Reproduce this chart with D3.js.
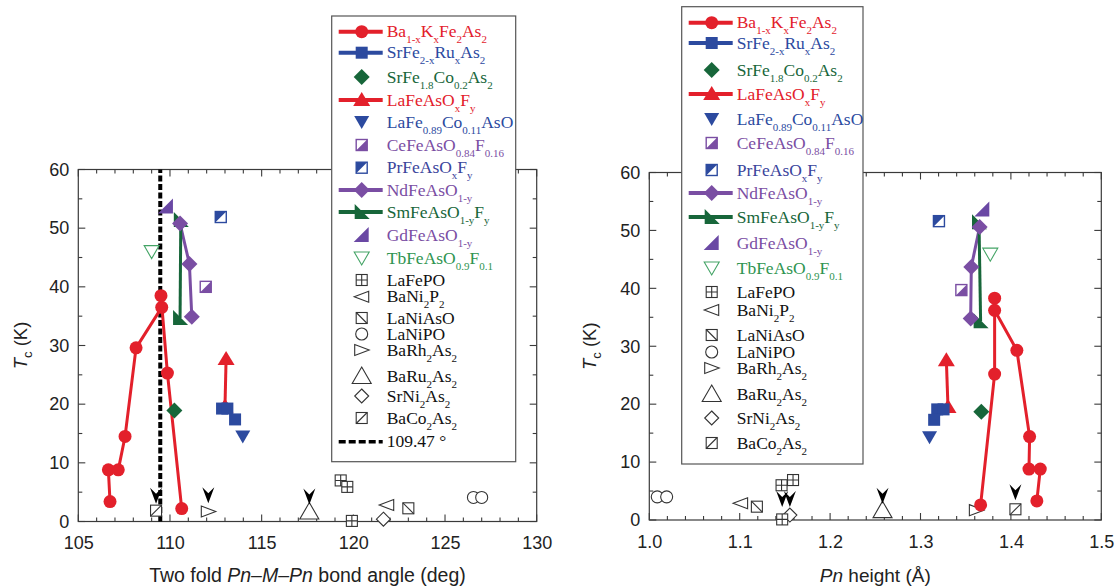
<!DOCTYPE html>
<html><head><meta charset="utf-8">
<script src="https://cdn.jsdelivr.net/npm/d3@7"></script>
<style>body{margin:0;background:#fff}svg{display:block}</style>
</head><body>
<svg id="chart" width="1120" height="588"></svg>
<script>
// ---------- DATA ----------
const tcTicks = [0, 10, 20, 30, 40, 50, 60];
const angleTicks = [105, 110, 115, 120, 125, 130];
const heightTicks = [1.0, 1.1, 1.2, 1.3, 1.4, 1.5];
const tetraAngle = 109.47;
const tetraLabel = "109.47 °";

const seriesLabels = [
  "Ba_{1-x}K_{x}Fe_{2}As_{2}", "SrFe_{2-x}Ru_{x}As_{2}", "SrFe_{1.8}Co_{0.2}As_{2}",
  "LaFeAsO_{x}F_{y}", "LaFe_{0.89}Co_{0.11}AsO", "CeFeAsO_{0.84}F_{0.16}",
  "PrFeAsO_{x}F_{y}", "NdFeAsO_{1-y}", "SmFeAsO_{1-y}F_{y}", "GdFeAsO_{1-y}",
  "TbFeAsO_{0.9}F_{0.1}", "LaFePO", "BaNi_{2}P_{2}", "LaNiAsO", "LaNiPO",
  "BaRh_{2}As_{2}", "BaRu_{2}As_{2}", "SrNi_{2}As_{2}", "BaCo_{2}As_{2}"
];

// bond angle (deg), Tc (K)
const angleBaK = [[106.73,3.4],[106.64,8.8],[107.18,8.8],[107.55,14.5],[108.15,29.6],[109.55,36.5],[109.51,38.5],[109.86,25.3],[110.64,2.2]];
const angleSrRu = [[112.84,19.25],[113.13,19.25],[113.55,17.4]];
const angleSrCo = [[110.24,18.9]];
const angleLaF = [[113.06,27.7],[113.0,19.6]];
const angleLaCo = [[113.97,14.5]];
const angleCe = [[111.95,40.0]];
const anglePr = [[112.77,51.9]];
const angleNd = [[110.55,50.8],[111.06,43.9],[111.19,34.9]];
const angleSm = [[110.59,51.4],[110.55,34.7]];
const angleGd = [[109.78,53.7]];
const angleTb = [[109.0,46.0]];
const angleLaFePO = [[119.31,7.0],[119.67,5.9],[119.92,0.1]];
const angleBaNi2P2 = [[121.82,2.8]];
const angleLaNiAsO = [[123.0,2.25]];
const angleLaNiPO = [[126.55,4.1],[127.0,4.1]];
const angleBaRh = [[112.09,1.7]];
const angleBaRu = [[117.6,1.7]];
const angleSrNi = [[121.64,0.4]];
const angleBaCo = [[109.24,1.85]];
const angleArrows = [[109.24,4.2],[112.09,4.3],[117.6,4.1]];

// Pn height (Å), Tc (K)
const heightBaK = [[1.3665,2.6],[1.382,25.2],[1.382,38.3],[1.382,36.2],[1.4066,29.3],[1.4207,14.4],[1.420,8.8],[1.4325,8.8],[1.4287,3.3]];
const heightSrRu = [[1.3185,19.1],[1.3255,19.1],[1.3151,17.3]];
const heightSrCo = [[1.3673,18.7]];
const heightLaF = [[1.3286,27.6],[1.3304,19.5]];
const heightLaCo = [[1.310,14.3]];
const heightCe = [[1.3452,39.7]];
const heightPr = [[1.3204,51.6]];
const heightNd = [[1.3654,50.6],[1.3562,43.7],[1.3555,34.8]];
const heightSm = [[1.3647,51.4],[1.3665,34.3]];
const heightGd = [[1.3684,53.6]];
const heightTb = [[1.3772,45.9]];
const heightLaFePO = [[1.1463,6.0],[1.159,6.9],[1.147,0.1]];
const heightBaNi2P2 = [[1.101,2.9]];
const heightLaNiAsO = [[1.119,2.3]];
const heightLaNiPO = [[1.0088,4.0],[1.0192,4.0]];
const heightBaRh = [[1.3618,1.7]];
const heightBaRu = [[1.258,1.7]];
const heightSrNi = [[1.1555,0.86]];
const heightBaCo = [[1.405,1.85]];
const heightArrows = [[1.147,3.45],[1.1555,3.45],[1.258,4.0],[1.405,4.6]];

// ---------- STYLE ----------
const RED = "#e3202b", BLUE = "#2c4a9f", GREEN = "#17663a", PURPLE = "#7a4ea3",
      GDP = "#6a48a4", TBG = "#44a466", BLK = "#333";
const seriesStyle = [
  {sym:"circle", c:RED, line:true, tc:RED},
  {sym:"square", c:BLUE, line:true, tc:BLUE},
  {sym:"diamond", c:GREEN, line:false, tc:GREEN},
  {sym:"triUp", c:RED, line:true, tc:RED},
  {sym:"triDown", c:BLUE, line:false, tc:BLUE},
  {sym:"halfLR", c:PURPLE, line:false, tc:PURPLE},
  {sym:"halfUL", c:BLUE, line:false, tc:"#3a449c"},
  {sym:"diamond", c:PURPLE, line:true, tc:PURPLE},
  {sym:"sm", c:GREEN, line:true, tc:GREEN},
  {sym:"gd", c:GDP, line:false, tc:PURPLE},
  {sym:"triDownOpen", c:TBG, line:false, tc:"#2e9450"},
  {sym:"sqCross", c:BLK, line:false, tc:"#111"},
  {sym:"triLeftOpen", c:BLK, line:false, tc:"#111"},
  {sym:"sqDiag1", c:BLK, line:false, tc:"#111"},
  {sym:"circleOpen", c:BLK, line:false, tc:"#111"},
  {sym:"triRightOpen", c:BLK, line:false, tc:"#111"},
  {sym:"triUpOpen", c:BLK, line:false, tc:"#111"},
  {sym:"diamondOpen", c:BLK, line:false, tc:"#111"},
  {sym:"sqDiag2", c:BLK, line:false, tc:"#111"}
];

const svg = d3.select("#chart");

function drawSymbol(g, type, c, x, y) {
  const s = g.append("g").attr("transform", `translate(${x},${y})`);
  const open = {fill:"#fff", stroke:c, "stroke-width":1.1};
  const setA = (el, o) => { for (const k in o) el.attr(k, o[k]); return el; };
  switch (type) {
    case "circle": s.append("circle").attr("r", 6.5).attr("fill", c); break;
    case "square": s.append("rect").attr("x",-6).attr("y",-6).attr("width",12).attr("height",12).attr("fill",c); break;
    case "diamond": s.append("path").attr("d","M0,-8L8,0L0,8L-8,0Z").attr("fill",c); break;
    case "triUp": s.append("path").attr("d","M0,-8L8.5,6L-8.5,6Z").attr("fill",c); break;
    case "triDown": s.append("path").attr("d","M-7.5,-6L7.5,-6L0,7Z").attr("fill",c); break;
    case "halfLR":
      s.append("rect").attr("x",-5.5).attr("y",-5.5).attr("width",11).attr("height",11).attr("fill","#fff").attr("stroke",c).attr("stroke-width",1.4);
      s.append("path").attr("d","M5.5,-5.5L5.5,5.5L-5.5,5.5Z").attr("fill",c); break;
    case "halfUL":
      s.append("rect").attr("x",-5.5).attr("y",-5.5).attr("width",11).attr("height",11).attr("fill","#fff").attr("stroke",c).attr("stroke-width",1.4);
      s.append("path").attr("d","M-5.5,-5.5L5.5,-5.5L-5.5,5.5Z").attr("fill",c); break;
    case "sm": s.append("path").attr("d","M-7,-8L-7,7L8,7Z").attr("fill",c); break;
    case "gd": s.append("path").attr("d","M7,-8L7,7L-8,7Z").attr("fill",c); break;
    case "triDownOpen": setA(s.append("path").attr("d","M-7.5,-6L7.5,-6L0,7Z"), open); break;
    case "sqCross":
      setA(s.append("rect").attr("x",-5.5).attr("y",-5.5).attr("width",11).attr("height",11), open);
      s.append("path").attr("d","M0,-5.5V5.5M-5.5,0H5.5").attr("stroke",c).attr("stroke-width",1.1); break;
    case "triLeftOpen": setA(s.append("path").attr("d","M-7.5,0L7,-5.5L7,5.5Z"), open); break;
    case "sqDiag1":
      setA(s.append("rect").attr("x",-5.5).attr("y",-5.5).attr("width",11).attr("height",11), open);
      s.append("path").attr("d","M-5.5,-5.5L5.5,5.5").attr("stroke",c).attr("stroke-width",1.1); break;
    case "circleOpen": setA(s.append("circle").attr("r",6), open); break;
    case "triRightOpen": setA(s.append("path").attr("d","M7.5,0L-7,-5.5L-7,5.5Z"), open); break;
    case "triUpOpen": setA(s.append("path").attr("d","M0,-9L9.5,7.5L-9.5,7.5Z"), open); break;
    case "diamondOpen": setA(s.append("path").attr("d","M0,-7L7,0L0,7L-7,0Z"), open); break;
    case "sqDiag2":
      setA(s.append("rect").attr("x",-5.5).attr("y",-5.5).attr("width",11).attr("height",11), open);
      s.append("path").attr("d","M-5.5,5.5L5.5,-5.5").attr("stroke",c).attr("stroke-width",1.1); break;
  }
}

function richText(g, str, x, y, color, size, subSize) {
  const t = g.append("text").attr("x", x).attr("y", y).attr("fill", color)
    .attr("font-family", "'Liberation Serif','Times New Roman',serif").attr("font-size", size);
  const parts = str.split(/(_\{[^}]*\})/).filter(p => p.length);
  let sub = false;
  parts.forEach(p => {
    if (p.startsWith("_{")) {
      t.append("tspan").attr("font-size", subSize).attr("dy", 6).text(p.slice(2, -1));
      sub = true;
    } else {
      const ts = t.append("tspan").text(p);
      if (sub) { ts.attr("dy", -6); sub = false; }
    }
  });
  return t;
}

function panel(o) {
  const g = svg.append("g");
  const x = d3.scaleLinear().domain(o.xDomain).range([o.left, o.right]);
  const y = d3.scaleLinear().domain([0, 60]).range([o.bottom, o.top]);
  const axisColor = "#3a3a3a";

  g.append("rect").attr("x", o.left).attr("y", o.top).attr("width", o.right - o.left)
    .attr("height", o.bottom - o.top).attr("fill", "none").attr("stroke", axisColor).attr("stroke-width", 1.2);

  const tk = g.append("g").attr("stroke", axisColor).attr("stroke-width", 1.1);
  const xMinor = d3.range(o.xDomain[0], o.xDomain[1] + o.xMinorStep / 2, o.xMinorStep);
  xMinor.forEach((v, i) => {
    const major = i % o.xMajorEvery === 0;
    const L = major ? 7 : 4, px = x(v);
    tk.append("line").attr("x1", px).attr("x2", px).attr("y1", o.bottom).attr("y2", o.bottom - L);
    tk.append("line").attr("x1", px).attr("x2", px).attr("y1", o.top).attr("y2", o.top + L);
  });
  d3.range(0, 61, 5).forEach(v => {
    const L = v % 10 === 0 ? 7 : 4, py = y(v);
    tk.append("line").attr("x1", o.left).attr("x2", o.left + L).attr("y1", py).attr("y2", py);
    tk.append("line").attr("x1", o.right).attr("x2", o.right - L).attr("y1", py).attr("y2", py);
  });

  const xAx = d3.axisBottom(x).tickValues(o.xTicks).tickSize(0).tickPadding(0).tickFormat(o.xFmt);
  const gx = g.append("g").attr("transform", `translate(0,${o.bottom + 22})`).call(xAx);
  gx.select(".domain").remove();
  gx.selectAll("text").attr("font-family", "'Liberation Sans',Arial,sans-serif").attr("font-size", 18).attr("fill", "#222").attr("dy", "0.32em");
  const yAx = d3.axisLeft(y).tickValues(tcTicks).tickSize(0).tickPadding(0);
  const gy = g.append("g").attr("transform", `translate(${o.left - 9},0)`).call(yAx);
  gy.select(".domain").remove();
  gy.selectAll("text").attr("font-family", "'Liberation Sans',Arial,sans-serif").attr("font-size", 18).attr("fill", "#222");

  const xt = g.append("text").attr("x", (o.left + o.right) / 2).attr("y", 582).attr("text-anchor", "middle")
    .attr("font-family", "'Liberation Sans',Arial,sans-serif").attr("font-size", o.xTitleSize).attr("fill", "#222");
  o.xTitle.forEach(([txt, it]) => xt.append("tspan").attr("font-style", it ? "italic" : "normal").text(txt));
  const yt = g.append("text").attr("transform", `translate(${o.yTitleX},${(o.top + o.bottom) / 2}) rotate(-90)`)
    .attr("text-anchor", "middle").attr("font-family", "'Liberation Sans',Arial,sans-serif").attr("font-size", 18.5).attr("fill", "#222");
  yt.append("tspan").attr("font-style", "italic").text("T");
  yt.append("tspan").attr("font-size", 13).attr("dy", 5).text("c");
  yt.append("tspan").attr("dy", -5).text(" (K)");

  if (o.refLine !== undefined) {
    g.append("line").attr("x1", x(o.refLine)).attr("x2", x(o.refLine)).attr("y1", o.bottom).attr("y2", o.top)
      .attr("stroke", "#000").attr("stroke-width", 4).attr("stroke-dasharray", "6,2.5");
  }

  const line = d3.line().x(d => x(d[0])).y(d => y(d[1]));
  o.series.forEach((data, i) => {
    const st = seriesStyle[i];
    if (st.line && data.length > 1)
      g.append("path").attr("d", line(data)).attr("fill", "none").attr("stroke", st.c).attr("stroke-width", 3).attr("stroke-linejoin", "round");
  });
  const order = d3.range(o.series.length).reverse();
  order.forEach(i => {
    const st = seriesStyle[i];
    o.series[i].forEach(d => drawSymbol(g, st.sym, st.c, x(d[0]), y(d[1])));
  });
  o.arrows.forEach(d => {
    g.append("path").attr("transform", `translate(${x(d[0])},${y(d[1])})`)
      .attr("d", "M-6,-9L0,7L6,-9L0,-3Z").attr("fill", "#000");
  });

  const lg = svg.append("g");
  lg.append("rect").attr("x", o.lg.x0).attr("y", o.lg.y0).attr("width", o.lg.x1 - o.lg.x0).attr("height", o.lg.y1 - o.lg.y0)
    .attr("fill", "#fff").attr("stroke", "#555").attr("stroke-width", 1.2);
  const sx = o.lg.x0 + 30;
  seriesLabels.forEach((lab, i) => {
    const st = seriesStyle[i], ry = o.lg.rows[i];
    if (st.line) lg.append("line").attr("x1", o.lg.x0 + 7).attr("x2", o.lg.x0 + 51).attr("y1", ry).attr("y2", ry)
      .attr("stroke", st.c).attr("stroke-width", 4);
    drawSymbol(lg, st.sym, st.c, sx, ry);
    richText(lg, lab, o.lg.x0 + 55, ry + 5.5, st.tc, 17.5, 11);
  });
  if (o.lg.refRow) {
    const ry = o.lg.refRow;
    lg.append("line").attr("x1", o.lg.x0 + 7).attr("x2", o.lg.x0 + 51).attr("y1", ry).attr("y2", ry)
      .attr("stroke", "#000").attr("stroke-width", 3.5).attr("stroke-dasharray", "7,3");
    richText(lg, tetraLabel, o.lg.x0 + 55, ry + 5.5, "#111", 17.5, 11);
  }
}

panel({
  xDomain: [105, 130], left: 78.3, right: 536.7, top: 169.5, bottom: 521.5,
  xMinorStep: 1, xMajorEvery: 5, xTicks: angleTicks, xFmt: d3.format("d"),
  xTitle: [["Two fold ", false], ["Pn", true], ["–", false], ["M", true], ["–", false], ["Pn", true], [" bond angle (deg)", false]],
  xTitleSize: 19.5,
  yTitleX: 27, refLine: tetraAngle,
  series: [angleBaK, angleSrRu, angleSrCo, angleLaF, angleLaCo, angleCe, anglePr, angleNd, angleSm, angleGd, angleTb,
           angleLaFePO, angleBaNi2P2, angleLaNiAsO, angleLaNiPO, angleBaRh, angleBaRu, angleSrNi, angleBaCo],
  arrows: angleArrows,
  lg: {x0: 331.7, x1: 515.7, y0: 16, y1: 461.7,
       rows: [31.7, 52.7, 77, 100, 122, 145, 167.7, 190, 212, 235, 258, 280, 296.7, 318, 334, 350, 376, 396, 418],
       refRow: 441.7}
});

panel({
  xDomain: [1.0, 1.5], left: 649.3, right: 1101.3, top: 172.5, bottom: 520,
  xMinorStep: 0.02, xMajorEvery: 5, xTicks: heightTicks, xFmt: d3.format(".1f"),
  xTitle: [["Pn", true], [" height (Å)", false]],
  xTitleSize: 19,
  yTitleX: 596,
  series: [heightBaK, heightSrRu, heightSrCo, heightLaF, heightLaCo, heightCe, heightPr, heightNd, heightSm, heightGd, heightTb,
           heightLaFePO, heightBaNi2P2, heightLaNiAsO, heightLaNiPO, heightBaRh, heightBaRu, heightSrNi, heightBaCo],
  arrows: heightArrows,
  lg: {x0: 681.7, x1: 863, y0: 6.7, y1: 464,
       rows: [22.7, 43, 70, 94, 119, 143, 170, 193, 217, 243, 268, 292, 310, 335, 352, 368, 394, 418, 443]}
});
</script>
</body></html>
